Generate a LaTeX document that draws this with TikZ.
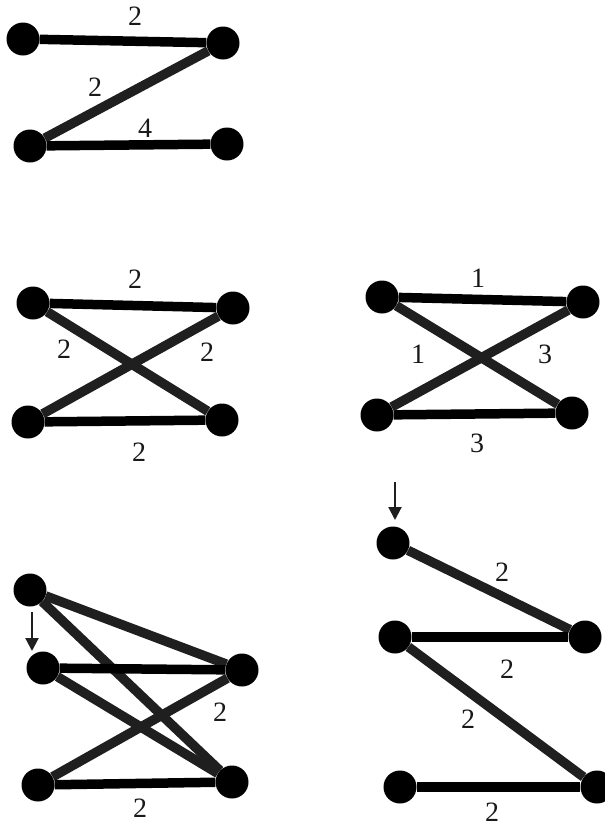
\documentclass[tikz,border=0pt]{standalone}
\usepackage{fontspec}
\setmainfont{Liberation Serif}
\usetikzlibrary{arrows.meta,positioning}

\begin{document}
\begin{tikzpicture}[
  x=1pt, y=-1pt,
  font=\fontsize{28}{28}\selectfont,
  dot/.style={circle, fill=black, draw=none, minimum size=33pt, inner sep=0pt},
  hbar/.style={line width=9.5pt, draw=black},
  dbar/.style={line width=9.5pt, draw=black!88},
  wlab/.style={inner sep=0pt, text=black!90},
  arr/.style={-{Triangle[length=13pt, width=13pt]}, line width=2.2pt, black!88},
]
\useasboundingbox (0,0) rectangle (605,828);
\clip (0,0) rectangle (605,828);

% top graph
\node[dot] (a1) at (23,39)   {};
\node[dot] (b1) at (223,43)  {};
\node[dot] (c1) at (30,146)  {};
\node[dot] (d1) at (227,144) {};

% middle left
\node[dot] (p1) at (33,303)  {};
\node[dot] (p2) at (233,308) {};
\node[dot] (p3) at (28,422)  {};
\node[dot] (p4) at (222,420) {};

% middle right
\node[dot] (q1) at (382,297) {};
\node[dot] (q2) at (583,302) {};
\node[dot] (q3) at (377,415) {};
\node[dot] (q4) at (572,413) {};

% bottom left
\node[dot] (r0) at (30,590)  {};
\node[dot] (r1) at (43,668)  {};
\node[dot] (r2) at (242,670) {};
\node[dot] (r3) at (38,785)  {};
\node[dot] (r4) at (232,782) {};

% bottom right
\node[dot] (s0) at (393,543) {};
\node[dot] (s1) at (395,637) {};
\node[dot] (s2) at (585,637) {};
\node[dot] (s3) at (400,787) {};
\node[dot] (s4) at (597,787) {};

\draw[hbar] (a1) -- (b1);
\draw[dbar] (b1) -- (c1);
\draw[hbar] (c1) -- (d1);

\draw[hbar] (p1) -- (p2);
\draw[hbar] (p3) -- (p4);
\draw[dbar] (p1) -- (p4);
\draw[dbar] (p3) -- (p2);

\draw[hbar] (q1) -- (q2);
\draw[hbar] (q3) -- (q4);
\draw[dbar] (q1) -- (q4);
\draw[dbar] (q3) -- (q2);

\draw[dbar] (r0) -- (r2);
\draw[dbar] (r0) -- (r4);
\draw[hbar] (r1) -- (r2);
\draw[dbar] (r1) -- (r4);
\draw[dbar] (r3) -- (r2);
\draw[hbar] (r3) -- (r4);

\draw[dbar] (s0) -- (s2);
\draw[hbar] (s1) -- (s2);
\draw[dbar] (s1) -- (s4);
\draw[hbar] (s3) -- (s4);

% weights
\node[wlab] (w1) at (135,16)  {2};
\node[wlab] (w2) at (95,87)   {2};
\node[wlab] (w3) at (145,128) {4};

\node[wlab] (w4) at (135,279) {2};
\node[wlab] (w5) at (64,349)  {2};
\node[wlab] (w6) at (207,352) {2};
\node[wlab] (w7) at (139,452) {2};

\node[wlab] (w8)  at (478,278) {1};
\node[wlab] (w9)  at (418,354) {1};
\node[wlab] (w10) at (545,354) {3};
\node[wlab] (w11) at (477,443) {3};

\node[wlab] (w12) at (220,712) {2};
\node[wlab] (w13) at (140,808) {2};

\node[wlab] (w14) at (502,572) {2};
\node[wlab] (w15) at (507,669) {2};
\node[wlab] (w16) at (468,719) {2};
\node[wlab] (w17) at (492,812) {2};

% markers
\coordinate (m1)  at (32,612);
\coordinate (m1t) at (32,651);
\draw[arr] (m1) -- (m1t);
\coordinate (m2)  at (395,482);
\coordinate (m2t) at (395,520);
\draw[arr] (m2) -- (m2t);
\end{tikzpicture}
\end{document}
